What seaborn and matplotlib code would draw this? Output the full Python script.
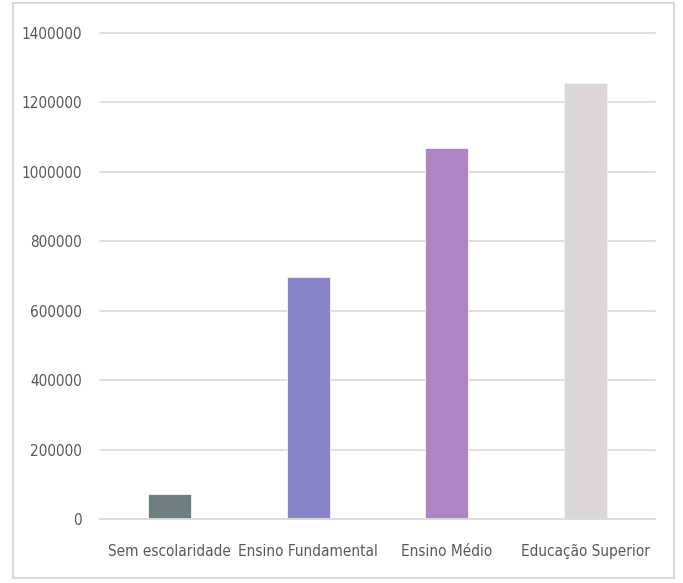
import matplotlib
matplotlib.use("Agg")
import matplotlib.pyplot as plt
import seaborn as sns
import pandas as pd
from matplotlib.patches import Rectangle

categories = ["Sem escolaridade", "Ensino Fundamental", "Ensino Médio", "Educação Superior"]
values = [72000, 697000, 1069000, 1256000]
colors = ["#6e7f7f", "#8785c7", "#ae86c5", "#dbd6da"]
yticks = [0, 200000, 400000, 600000, 800000, 1000000, 1200000, 1400000]

sns.set_theme(style="white")
plt.rcParams["font.family"] = ["DejaVu Sans"]
plt.rcParams["font.stretch"] = "condensed"

df = pd.DataFrame({"categoria": categories, "valor": values})

fig = plt.figure(figsize=(6.83, 5.83), dpi=100)
ax = fig.add_axes([0.1464, 0.1098, 0.8126, 0.8336])

sns.barplot(data=df, x="categoria", y="valor", hue="categoria", palette=colors,
            width=0.31, legend=False, ax=ax, edgecolor="#f4f4f4", linewidth=0.6,
            saturation=1)

ax.set_ylim(0, 1400000)
ax.set_xlim(-0.5, 3.5)
ax.set_yticks(yticks)
ax.set_yticklabels([str(v) for v in yticks])
ax.yaxis.grid(True, color="#dcdcdc", linewidth=1.3)
for gl in ax.get_ygridlines():
    gl.set_clip_on(False)
ax.set_axisbelow(True)
for side in ["left", "right", "top"]:
    ax.spines[side].set_visible(False)
ax.spines["bottom"].set_color("#dcdcdc")
ax.spines["bottom"].set_linewidth(1.3)
ax.tick_params(axis="both", length=0, labelsize=11, colors="#595959")
ax.tick_params(axis="x", pad=18)
ax.tick_params(axis="y", pad=13)
ax.set_xlabel("")
ax.set_ylabel("")

# chart frame
fig.patches.append(Rectangle((13 / 683, 5 / 583), 661 / 683, 575 / 583,
                             transform=fig.transFigure, fill=False,
                             edgecolor="#d9d9d9", linewidth=1.5))

fig.savefig("out.png", dpi=100, facecolor="white")
